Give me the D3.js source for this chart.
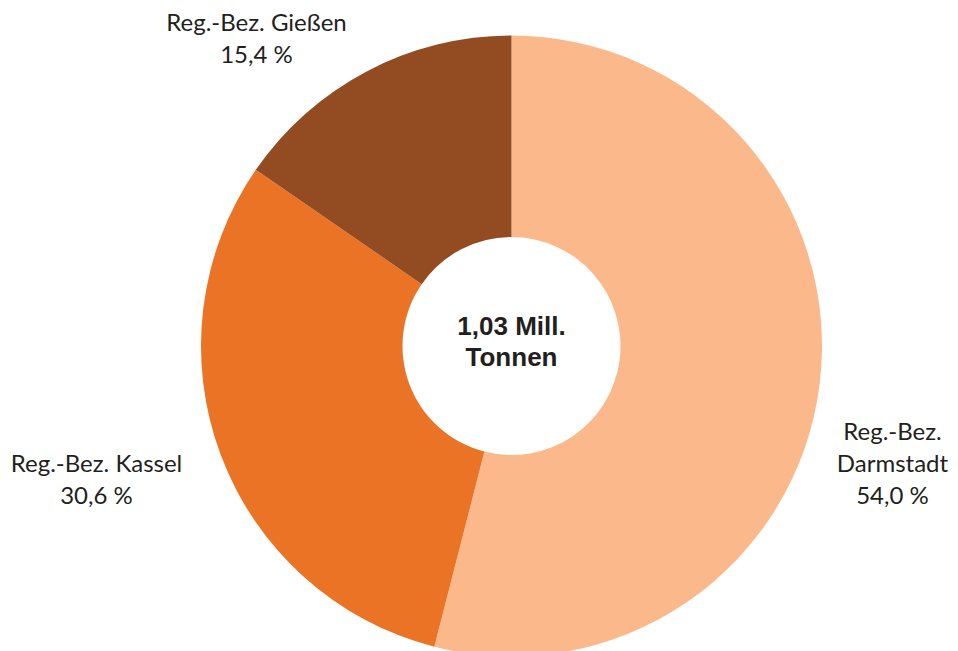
<!DOCTYPE html>
<html>
<head>
<meta charset="utf-8">
<script src="https://cdn.jsdelivr.net/npm/d3@7/dist/d3.min.js"></script>
<style>
  html, body { margin: 0; padding: 0; background: #ffffff; }
  svg { display: block; }
</style>
</head>
<body>
<script>
// Anteile der Regierungsbezirke (in %)
const regions = ["Reg.-Bez. Darmstadt", "Reg.-Bez. Kassel", "Reg.-Bez. Gießen"];
const shares = [54.0, 30.6, 15.4];
const labelLines = [["Reg.-Bez.", "Darmstadt"], ["Reg.-Bez. Kassel"], ["Reg.-Bez. Gießen"]];
const colors = ["#FBB98B", "#EA7325", "#934C22"];
const totalLabel = ["1,03 Mill.", "Tonnen"];

// Layout
const width = 958, height = 651;
const cx = 511.5, cy = 346;
const outerR = 310.5, innerR = 109;
// Label anchor (centre of first line) relative to chart centre
const labelAnchor = [[381, 94], [-415, 126], [-255, -315]];
const lineH = 32;

const fmt = v => d3.format(".1f")(v).replace(".", ",") + " %";

const svg = d3.select("body").append("svg")
  .attr("width", width).attr("height", height);

const g = svg.append("g").attr("transform", `translate(${cx},${cy})`);

const data = regions.map((r, i) => ({ name: r, value: shares[i], i }));

const pie = d3.pie().value(d => d.value).sort(null);
const arc = d3.arc().innerRadius(innerR).outerRadius(outerR);

g.selectAll("path.slice")
  .data(pie(data))
  .join("path")
  .attr("class", "slice")
  .attr("d", arc)
  .attr("fill", d => colors[d.data.i]);

// Data labels
const labels = g.selectAll("text.lbl")
  .data(data)
  .join("text")
  .attr("class", "lbl")
  .attr("text-anchor", "middle")
  .attr("font-family", "Lato, 'Open Sans', sans-serif")
  .attr("font-size", 24)
  .attr("fill", "#231f20")
  .attr("transform", d => `translate(${labelAnchor[d.i][0]},${labelAnchor[d.i][1]})`);

labels.each(function(d) {
  const t = d3.select(this);
  const lines = labelLines[d.i].concat([fmt(d.value)]);
  lines.forEach((ln, k) => {
    t.append("tspan").attr("x", 0).attr("y", k * lineH).text(ln);
  });
});

// Total in the centre
const center = g.append("text")
  .attr("text-anchor", "middle")
  .attr("font-family", "'Liberation Sans', Arial, sans-serif")
  .attr("font-weight", "bold")
  .attr("font-size", 26)
  .attr("fill", "#231f20");
totalLabel.forEach((ln, k) => {
  center.append("tspan").attr("x", 0).attr("y", -11 + k * 31).text(ln);
});
</script>
</body>
</html>
